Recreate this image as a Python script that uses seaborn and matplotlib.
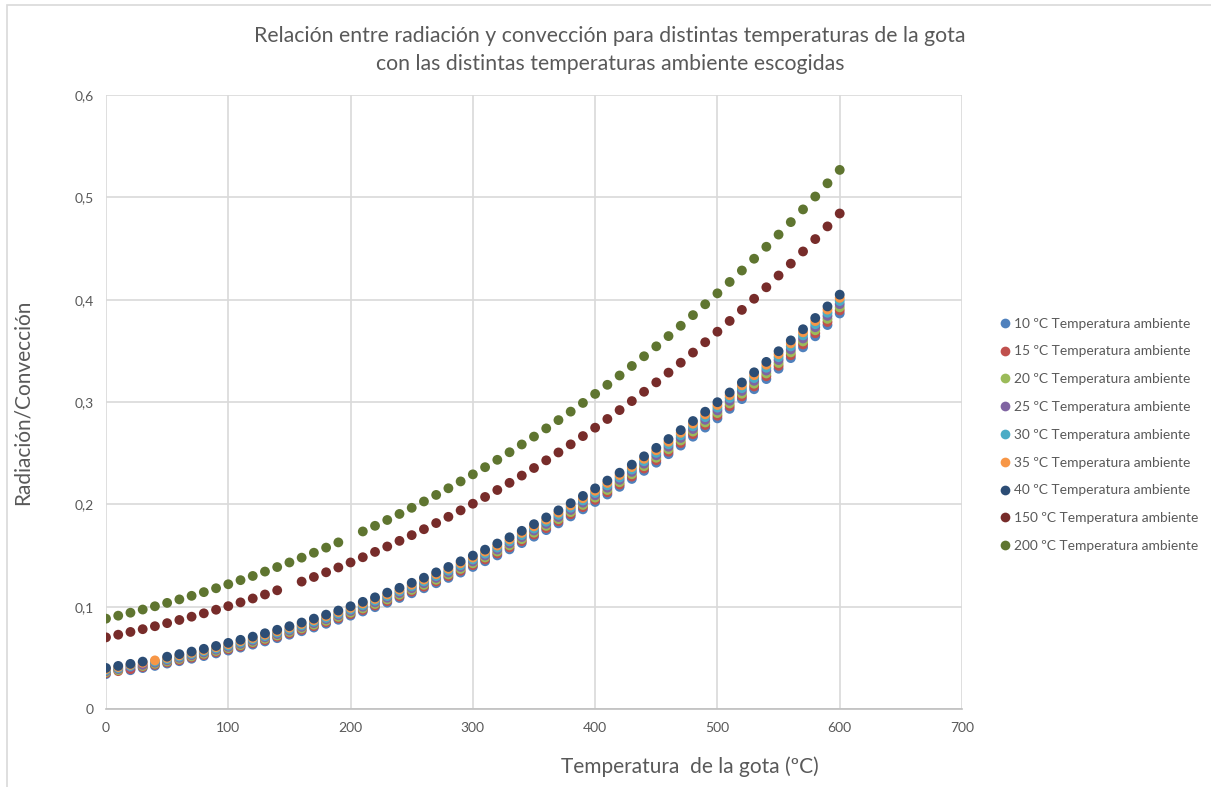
import numpy as np
import pandas as pd
import seaborn as sns
import matplotlib.pyplot as plt
from matplotlib.patches import Rectangle
from matplotlib.lines import Line2D
from matplotlib.ticker import FuncFormatter

# Drop temperature (ºC), one point every 10 degrees
temp_gota = list(range(0, 601, 10))

# Radiation/convection ratio for each ambient temperature (None where drop = ambient)
amb_10 = [.0341, None, .0379, .0400, .0421, .0444, .0467, .0491, .0517, .0543, .0571, .0600, .0629, .0660, .0692, .0726,
          .0760, .0796, .0833, .0872, .0912, .0953, .0995, .1039, .1085, .1131, .1180, .1229, .1281, .1333, .1388,
          .1444, .1501, .1560, .1621, .1684, .1748, .1814, .1882, .1951, .2023, .2096, .2171, .2248, .2327, .2407,
          .2490, .2574, .2661, .2750, .2840, .2933, .3028, .3125, .3224, .3325, .3429, .3534, .3642, .3752, .3865]
amb_15 = [.0350, .0370, .0389, .0410, .0432, .0455, .0477, .0502, .0528, .0555, .0583, .0612, .0642, .0673, .0706, .0739,
          .0774, .0810, .0848, .0887, .0927, .0968, .1011, .1055, .1101, .1148, .1196, .1246, .1298, .1351, .1406,
          .1462, .1520, .1580, .1641, .1704, .1768, .1835, .1903, .1973, .2044, .2118, .2193, .2271, .2350, .2431,
          .2514, .2599, .2686, .2775, .2866, .2959, .3055, .3152, .3252, .3353, .3457, .3563, .3672, .3782, .3895]
amb_20 = [.0360, .0379, None, .0420, .0442, .0465, .0489, .0514, .0540, .0567, .0595, .0624, .0654, .0686, .0719, .0753,
          .0788, .0824, .0862, .0901, .0941, .0983, .1026, .1071, .1117, .1164, .1213, .1263, .1315, .1369, .1424,
          .1481, .1539, .1599, .1660, .1723, .1789, .1855, .1924, .1994, .2066, .2140, .2216, .2294, .2373, .2455,
          .2538, .2624, .2711, .2800, .2892, .2986, .3081, .3179, .3279, .3381, .3485, .3592, .3701, .3812, .3925]
amb_25 = [.0370, .0390, .0410, .0431, .0453, .0476, .0500, .0525, .0552, .0579, .0607, .0637, .0667, .0699, .0732, .0766,
          .0802, .0839, .0877, .0916, .0957, .0999, .1042, .1087, .1133, .1181, .1230, .1281, .1333, .1387, .1442,
          .1499, .1558, .1618, .1680, .1744, .1809, .1876, .1945, .2016, .2088, .2163, .2239, .2317, .2397, .2479,
          .2563, .2649, .2736, .2826, .2918, .3012, .3108, .3207, .3307, .3410, .3514, .3621, .3731, .3842, .3956]
amb_30 = [.0380, .0400, .0420, None, .0464, .0487, .0512, .0537, .0564, .0591, .0620, .0649, .0680, .0712, .0746, .0780,
          .0816, .0853, .0891, .0931, .0972, .1014, .1058, .1103, .1150, .1198, .1247, .1299, .1351, .1405, .1461,
          .1518, .1577, .1638, .1700, .1764, .1830, .1897, .1967, .2038, .2111, .2185, .2262, .2340, .2421, .2503,
          .2587, .2674, .2762, .2852, .2945, .3039, .3135, .3234, .3335, .3438, .3543, .3651, .3760, .3872, .3987]
amb_35 = [.0390, .0410, .0431, .0452, .0475, .0499, .0524, .0549, .0576, .0604, .0633, .0663, .0694, .0726, .0760, .0795,
          .0831, .0868, .0907, .0947, .0988, .1031, .1075, .1120, .1167, .1215, .1265, .1317, .1370, .1424, .1480,
          .1538, .1597, .1658, .1721, .1785, .1851, .1919, .1989, .2060, .2133, .2209, .2286, .2364, .2445, .2528,
          .2612, .2699, .2788, .2879, .2971, .3066, .3163, .3262, .3364, .3467, .3573, .3681, .3791, .3903, .4018]
amb_40 = [.0401, .0421, .0441, .0463, None, .0511, .0536, .0561, .0588, .0616, .0646, .0676, .0707, .0740, .0774, .0809,
          .0845, .0883, .0922, .0962, .1004, .1047, .1091, .1137, .1184, .1233, .1283, .1335, .1388, .1443, .1499,
          .1557, .1617, .1678, .1741, .1806, .1872, .1941, .2011, .2082, .2156, .2232, .2309, .2388, .2469, .2552,
          .2638, .2725, .2814, .2905, .2998, .3093, .3191, .3290, .3392, .3496, .3602, .3711, .3821, .3934, .4049]
amb_150 = [.0700, .0726, .0753, .0780, .0809, .0839, .0870, .0902, .0935, .0970, .1005, .1042, .1080, .1119, .1160, None,
           .1245, .1290, .1336, .1383, .1432, .1483, .1535, .1588, .1643, .1699, .1757, .1817, .1878, .1941, .2006,
           .2072, .2140, .2210, .2281, .2355, .2430, .2507, .2586, .2667, .2749, .2834, .2921, .3009, .3100, .3192,
           .3287, .3384, .3483, .3584, .3687, .3792, .3900, .4009, .4121, .4236, .4352, .4471, .4592, .4716, .4842]
amb_200 = [.0883, .0912, .0941, .0972, .1004, .1037, .1071, .1106, .1142, .1180, .1219, .1259, .1300, .1343, .1387, .1432,
           .1479, .1527, .1577, .1628, None, .1735, .1790, .1847, .1906, .1966, .2028, .2092, .2157, .2224, .2293,
           .2363, .2435, .2509, .2585, .2662, .2742, .2823, .2906, .2991, .3079, .3168, .3259, .3352, .3447, .3544,
           .3644, .3745, .3849, .3955, .4062, .4173, .4285, .4400, .4517, .4636, .4758, .4882, .5008, .5137, .5268]

series_labels = ["10 ºC Temperatura ambiente", "15 ºC Temperatura ambiente", "20 ºC Temperatura ambiente",
                 "25 ºC Temperatura ambiente", "30 ºC Temperatura ambiente", "35 ºC Temperatura ambiente",
                 "40 ºC Temperatura ambiente", "150 ºC Temperatura ambiente", "200 ºC Temperatura ambiente"]
series_values = [amb_10, amb_15, amb_20, amb_25, amb_30, amb_35, amb_40, amb_150, amb_200]
colors = ["#4F81BD", "#C0504D", "#9BBB59", "#8064A2", "#4BACC6", "#F79646", "#2C4D75", "#772C2A", "#5F7530"]

x_ticks = [0, 100, 200, 300, 400, 500, 600, 700]
y_ticks = [0, 0.1, 0.2, 0.3, 0.4, 0.5, 0.6]

frames = []
for label, vals in zip(series_labels, series_values):
    frames.append(pd.DataFrame({"temp": temp_gota, "ratio": vals, "serie": label}))
df = pd.concat(frames, ignore_index=True).dropna()
df["ratio"] = df["ratio"].astype(float)

sns.set_theme(style="white")
plt.rcParams["font.family"] = ["Lato", "DejaVu Sans"]
text_color = "#595959"
grid_color = "#D9D9D9"

W, H = 1211, 787
fig = plt.figure(figsize=(W / 100, H / 100), dpi=100)
ax = fig.add_axes([106 / W, 1 - 709 / H, (962 - 106) / W, (709 - 95) / H])

sns.scatterplot(data=df, x="temp", y="ratio", hue="serie", hue_order=series_labels,
                palette=colors, s=50, linewidth=0, ax=ax, legend=False, zorder=3)

ax.set_xlim(0, 700)
ax.set_ylim(0, 0.6)
ax.set_xticks(x_ticks)
ax.set_yticks(y_ticks)
ax.yaxis.set_major_formatter(FuncFormatter(lambda v, p: "0" if v == 0 else f"{v:.1f}".replace(".", ",")))
ax.grid(True, color=grid_color, linewidth=1.2, zorder=0)
ax.set_axisbelow(True)
for side in ["top", "right", "left"]:
    ax.spines[side].set_visible(False)
ax.spines["bottom"].set_color("#BFBFBF")
ax.spines["bottom"].set_linewidth(1.2)
ax.tick_params(axis="both", length=0, labelsize=10, labelcolor=text_color)
ax.tick_params(axis="x", pad=9)
ax.tick_params(axis="y", pad=9)
ax.set_xlabel("")
ax.set_ylabel("")

# Axis titles
fig.text(690 / W, 1 - 767 / H, "Temperatura  de la gota (ºC)", ha="center", va="center",
         fontsize=15, color=text_color)
fig.text(23 / W, 1 - 402 / H, "Radiación/Convección", ha="center", va="center", rotation=90,
         fontsize=15, color=text_color)

# Chart title
fig.text(610 / W, 1 - 36 / H, "Relación entre radiación y convección para distintas temperaturas de la gota",
         ha="center", va="center", fontsize=15.3, color=text_color)
fig.text(610 / W, 1 - 64 / H, "con las distintas temperaturas ambiente escogidas",
         ha="center", va="center", fontsize=15.3, color=text_color)

handles = [Line2D([0], [0], marker="o", linestyle="", markersize=7, markerfacecolor=c, markeredgewidth=0)
           for c in colors]
fig.legend(handles, series_labels, loc="upper left", bbox_to_anchor=(993 / W, 1 - 312 / H),
           frameon=False, fontsize=9.9, labelcolor=text_color, handletextpad=0.1, labelspacing=1.15,
           handlelength=1.0, borderaxespad=0)

fig.patches.append(Rectangle((7 / W, -0.02), 1.05, 1 - 5 / H + 0.02, transform=fig.transFigure,
                             fill=False, edgecolor="#D9D9D9", linewidth=1.2))

fig.savefig("out.png", dpi=100)
